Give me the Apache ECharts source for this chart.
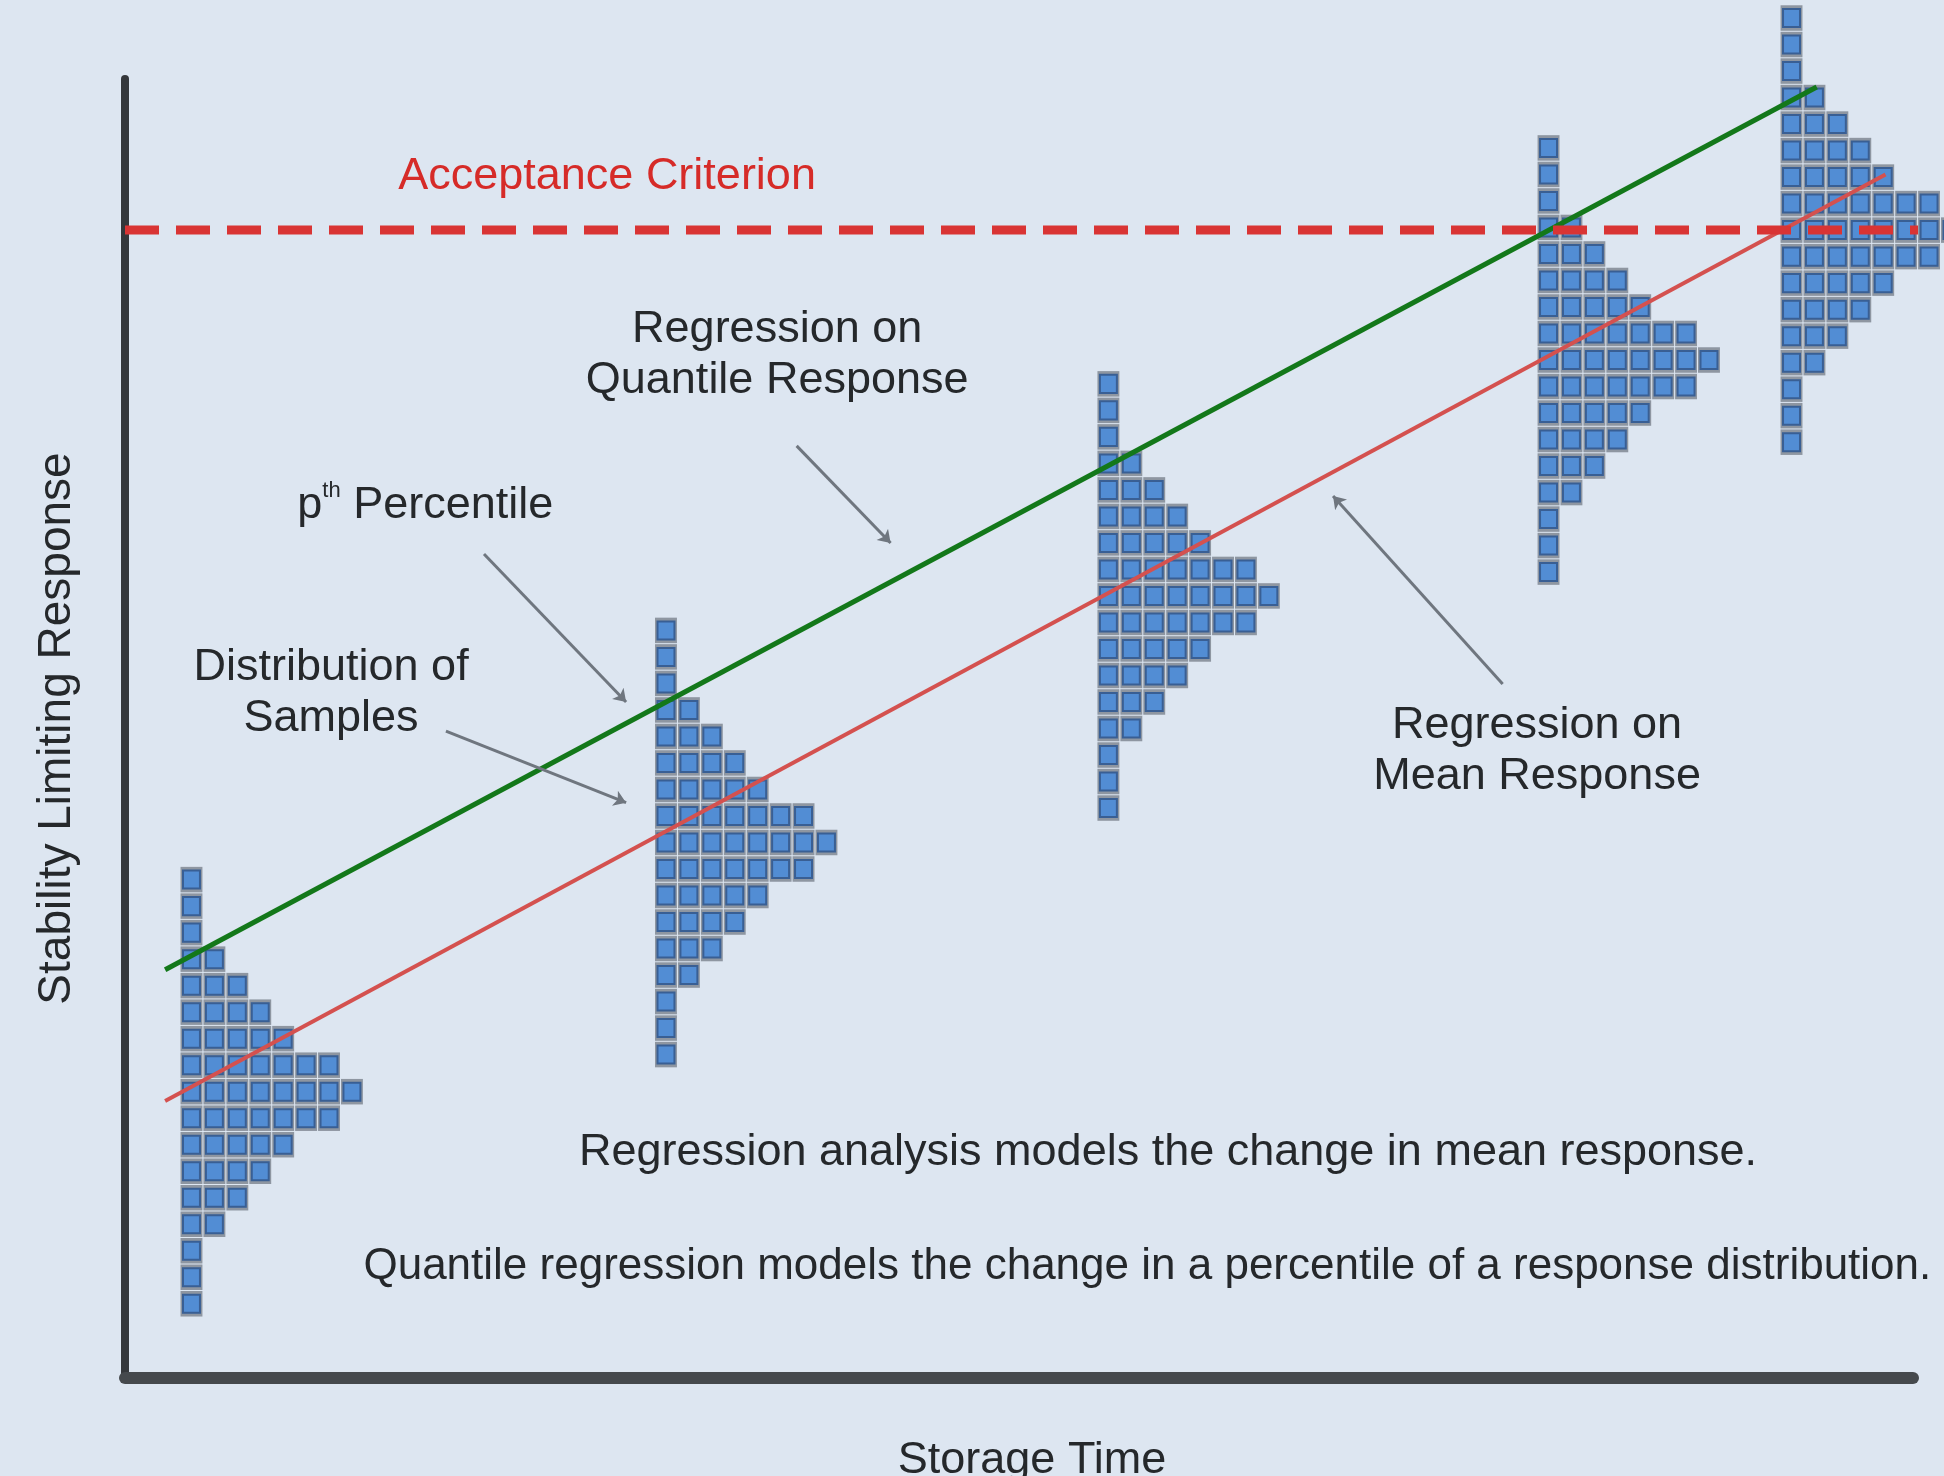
<!DOCTYPE html>
<html>
<head>
<meta charset="utf-8">
<script src="https://cdn.jsdelivr.net/npm/echarts@6/dist/echarts.min.js"></script>
<style>
html,body{margin:0;padding:0;background:#dde6f1;}
#chart{width:1944px;height:1476px;}
</style>
</head>
<body>
<div id="chart"></div>
<script>
// ---- Data (axis units: x = storage time, y = response; one histogram cell = 1 unit) ----
const storageTimes = [2.4, 23.1, 42.4, 61.6, 72.2];          // left edge of each sample distribution
const distributionBase = [2.3, 11.7, 21.0, 29.9, 34.8];      // lowest response bin of each distribution
// number of samples per response bin, from lowest bin to highest bin
const binCountsT1 = [1, 1, 1, 2, 3, 4, 5, 7, 8, 7, 5, 4, 3, 2, 1, 1, 1];
const binCountsT2 = [1, 1, 1, 2, 3, 4, 5, 7, 8, 7, 5, 4, 3, 2, 1, 1, 1];
const binCountsT3 = [1, 1, 1, 2, 3, 4, 5, 7, 8, 7, 5, 4, 3, 2, 1, 1, 1];
const binCountsT4 = [1, 1, 1, 2, 3, 4, 5, 7, 8, 7, 5, 4, 3, 2, 1, 1, 1];
const binCountsT5 = [1, 1, 1, 2, 3, 4, 5, 7, 8, 7, 5, 4, 3, 2, 1, 1, 1];

const meanLineX = [1.75, 76.8];
const meanLineY = [10.45, 45.4];
const quantileLineX = [1.75, 73.8];
const quantileLineY = [15.4, 48.7];

const acceptanceLevel = 43.3;
const acceptanceSpanX = [0, 79.4];

const xAxisMax = 78;
const yAxisMax = 49;

const annotationTexts = [
  'Acceptance Criterion',
  'Regression on\nQuantile Response',
  '{t|p}{s|th}{t| Percentile}',
  'Distribution of\nSamples',
  'Regression on\nMean Response',
  'Regression analysis models the change in mean response.'
];
const annotationX = [21.03, 28.45, 13.1, 8.99, 61.6, 45.5];
const annotationY = [45.3, 38.6, 32.9, 25.84, 23.65, 8.49];

const footnoteText = 'Quantile regression models the change in a percentile of a response distribution.';
const footnoteX = 10.38;
const footnoteY = 4.19;

// arrows: start -> tip
const arrowStartX = [29.3, 15.66, 14.0, 60.1];
const arrowStartY = [35.16, 31.08, 24.4, 26.18];
const arrowTipX = [33.4, 21.86, 21.86, 52.7];
const arrowTipY = [31.5, 25.5, 21.7, 33.27];

// ---- Build series data ----
const allBinCounts = [binCountsT1, binCountsT2, binCountsT3, binCountsT4, binCountsT5];
const cells = [];
allBinCounts.forEach(function (counts, h) {
  counts.forEach(function (n, r) {
    for (let c = 0; c < n; c++) {
      cells.push([storageTimes[h] + c, distributionBase[h] + r]);
    }
  });
});

const FONT = '"Liberation Sans", Arial, sans-serif';
const TXT = '#25282b';

const chart = echarts.init(document.getElementById('chart'), null, {renderer: 'canvas'});

const option = {
  backgroundColor: '#dde6f1',
  animation: false,
  grid: {left: 125, right: 31, top: 79, bottom: 98, containLabel: false, outerBoundsMode: 'none'},
  xAxis: {
    type: 'value', min: 0, max: xAxisMax,
    name: 'Storage Time', nameLocation: 'middle', nameGap: 60,
    nameTextStyle: {fontFamily: FONT, fontSize: 45, color: TXT, padding: [0, 0, 0, 26]},
    axisLine: {show: true, onZero: false, lineStyle: {color: '#45494d', width: 12}},
    axisTick: {show: false}, axisLabel: {show: false}, splitLine: {show: false}
  },
  yAxis: {
    type: 'value', min: 0, max: yAxisMax,
    name: 'Stability Limiting Response', nameLocation: 'middle', nameGap: 45,
    nameTextStyle: {fontFamily: FONT, fontSize: 46, color: TXT},
    axisLine: {show: true, onZero: false, lineStyle: {color: '#34373b', width: 8}},
    axisTick: {show: false}, axisLabel: {show: false}, splitLine: {show: false}
  },
  series: [
    {
      type: 'custom',
      z: 2,
      clip: false,
      data: cells,
      renderItem: function (params, api) {
        const x = api.value(0), y = api.value(1);
        const p0 = api.coord([x, y]);
        const p1 = api.coord([x + 1, y + 1]);
        const w = p1[0] - p0[0];
        const h = p0[1] - p1[1];
        return {
          type: 'group',
          children: [
            {type: 'rect', shape: {x: p0[0] + 0.5, y: p1[1] + 0.5, width: w - 1, height: h - 1},
             style: {fill: '#8e96a1'}},
            {type: 'rect', shape: {x: p0[0] + w * 0.13, y: p1[1] + h * 0.16, width: w * 0.74, height: h * 0.68},
             style: {fill: '#528dd4', stroke: '#395f94', lineWidth: 2}}
          ]
        };
      }
    },
    {
      type: 'line', name: 'Regression on Mean Response', z: 5, clip: false,
      symbol: 'none', silent: true,
      lineStyle: {color: '#d4514f', width: 4},
      data: meanLineX.map(function (x, i) { return [x, meanLineY[i]]; })
    },
    {
      type: 'line', name: 'Regression on Quantile Response', z: 5, clip: false,
      symbol: 'none', silent: true,
      lineStyle: {color: '#13781a', width: 5},
      data: quantileLineX.map(function (x, i) { return [x, quantileLineY[i]]; })
    },
    {
      type: 'line', name: 'Acceptance Criterion', z: 6, clip: false,
      symbol: 'none', silent: true,
      lineStyle: {color: '#d93434', width: 9, type: [34, 17]},
      data: acceptanceSpanX.map(function (x) { return [x, acceptanceLevel]; })
    },
    {
      type: 'lines', coordinateSystem: 'cartesian2d', z: 7, silent: true,
      symbol: ['none', 'arrow'], symbolSize: [10, 12],
      lineStyle: {color: '#6f767f', width: 3, opacity: 1},
      data: arrowStartX.map(function (x, i) {
        return {coords: [[x, arrowStartY[i]], [arrowTipX[i], arrowTipY[i]]]};
      })
    },
    {
      type: 'scatter', z: 8, silent: true, symbolSize: 1,
      itemStyle: {color: 'rgba(0,0,0,0)', opacity: 1},
      data: annotationX.map(function (x, i) {
        return {
          value: [x, annotationY[i]],
          label: {
            show: true, position: 'inside', opacity: 1,
            formatter: annotationTexts[i],
            fontFamily: FONT, fontSize: 45, lineHeight: 51,
            color: i === 0 ? '#d62b28' : TXT,
            textBorderWidth: 0,
            align: 'center',
            rich: {
              t: {fontFamily: FONT, fontSize: 45, color: TXT, lineHeight: 51},
              s: {fontFamily: FONT, fontSize: 22, color: TXT, verticalAlign: 'top', lineHeight: 22}
            }
          }
        };
      })
    },
    {
      type: 'scatter', z: 8, silent: true, symbolSize: 1,
      itemStyle: {color: 'rgba(0,0,0,0)', opacity: 1},
      data: [{
        value: [footnoteX, footnoteY],
        label: {
          show: true, position: 'right', distance: 0, opacity: 1,
          formatter: footnoteText,
          fontFamily: FONT, fontSize: 44, color: TXT, textBorderWidth: 0
        }
      }]
    }
  ]
};
chart.setOption(option);
</script>
</body>
</html>
